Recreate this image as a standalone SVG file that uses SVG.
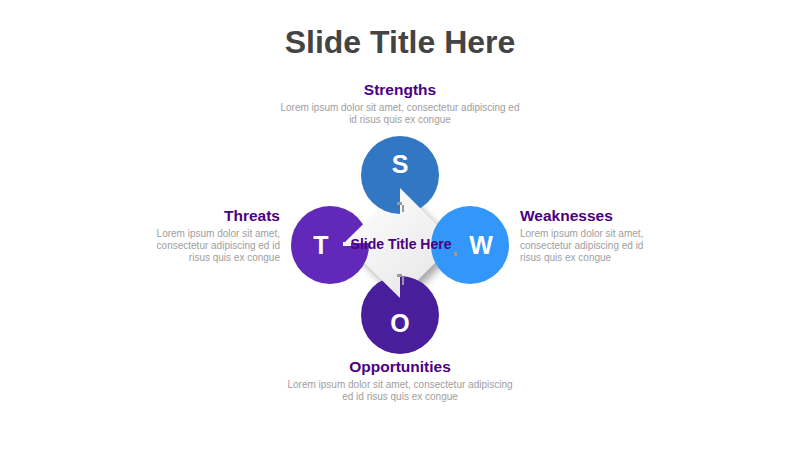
<svg xmlns="http://www.w3.org/2000/svg" width="800" height="450" viewBox="0 0 800 450">
<defs>
<linearGradient id="pg" gradientUnits="userSpaceOnUse" x1="350" y1="190" x2="450" y2="300">
<stop offset="0" stop-color="#ffffff"/>
<stop offset="1" stop-color="#e4e4e4"/>
</linearGradient>
<filter id="blur" x="-30%" y="-30%" width="160%" height="160%">
<feGaussianBlur stdDeviation="4"/>
</filter>
</defs>
<style>
.title{font-family:"Liberation Sans",Arial,sans-serif;font-weight:bold;font-size:32px;fill:#444444}
.head{font-family:"Liberation Sans",Arial,sans-serif;font-weight:bold;font-size:15.5px;fill:#4B0082}
.body{font-family:"Liberation Sans",Arial,sans-serif;font-size:10px;fill:#9e9e9e}
.letter{font-family:"Liberation Sans",Arial,sans-serif;font-weight:bold;font-size:25px;fill:#ffffff;text-anchor:middle}
.piece{fill:url(#pg)}
.notch{fill:#9a9a9a}
.ctext{font-family:"Liberation Sans",Arial,sans-serif;font-weight:bold;font-size:14px;fill:#4B0082;text-anchor:middle}
</style>
<rect width="800" height="450" fill="#ffffff"/>
<text class="title" x="400" y="53" text-anchor="middle">Slide Title Here</text>
<g id="connectors"/>
<polygon points="349,248 404,193 459,248 404,303" fill="#000" opacity="0.35" filter="url(#blur)"/>
<polygon id="center-lr" class="piece" points="400,243 455,243 400,298"/>
<g id="node-O">
<circle cx="400" cy="315" r="39" fill="#481E9B"/>
<text class="letter" x="400" y="332">O</text>
<text class="head" x="400" y="372" text-anchor="middle">Opportunities</text>
<text class="body" text-anchor="middle"><tspan x="400" y="388">Lorem ipsum dolor sit amet, consectetur adipiscing</tspan><tspan x="400" y="400">ed id risus quis ex congue</tspan></text>
</g>
<polygon id="center-ll" class="piece" points="344,243 400,243 400,298"/>
<g id="node-T">
<circle cx="330" cy="245" r="39" fill="#6128BA"/>
<text class="letter" x="321" y="254">T</text>
<text class="head" x="280" y="221" text-anchor="end">Threats</text>
<text class="body" text-anchor="end"><tspan x="280" y="237">Lorem ipsum dolor sit amet,</tspan><tspan x="280" y="249">consectetur adipiscing ed id</tspan><tspan x="280" y="261">risus quis ex congue</tspan></text>
</g>
<polygon id="center-ul" class="piece" points="344,243 400,188 400,243"/>
<g id="node-S">
<circle cx="400" cy="175" r="39" fill="#3177C4"/>
<text class="letter" x="400" y="173">S</text>
<text class="head" x="400" y="95" text-anchor="middle">Strengths</text>
<text class="body" text-anchor="middle"><tspan x="400" y="111">Lorem ipsum dolor sit amet, consectetur adipiscing ed</tspan><tspan x="400" y="123">id risus quis ex congue</tspan></text>
</g>
<polygon id="center-ur" class="piece" points="400,188 455,243 400,243"/>
<g id="node-W">
<circle cx="470" cy="245" r="39" fill="#3396FA"/>
<text class="letter" x="481" y="254">W</text>
<text class="head" x="520" y="221">Weaknesses</text>
<text class="body"><tspan x="520" y="237">Lorem ipsum dolor sit amet,</tspan><tspan x="520" y="249">consectetur adipiscing ed id</tspan><tspan x="520" y="261">risus quis ex congue</tspan></text>
</g>
<g id="seams">
<rect class="notch" x="397" y="202" width="5" height="3"/>
<rect class="notch" x="402" y="205" width="2" height="7"/>
<rect class="notch" x="397" y="274" width="5" height="3"/>
<rect class="notch" x="402" y="277" width="2" height="8"/>
<rect x="343" y="242" width="8" height="4" fill="#f4f4f4"/>
<rect class="notch" x="454" y="252" width="3" height="4"/>
</g>
<text id="center-label" class="ctext" x="401" y="249">Slide Title Here</text>
</svg>
